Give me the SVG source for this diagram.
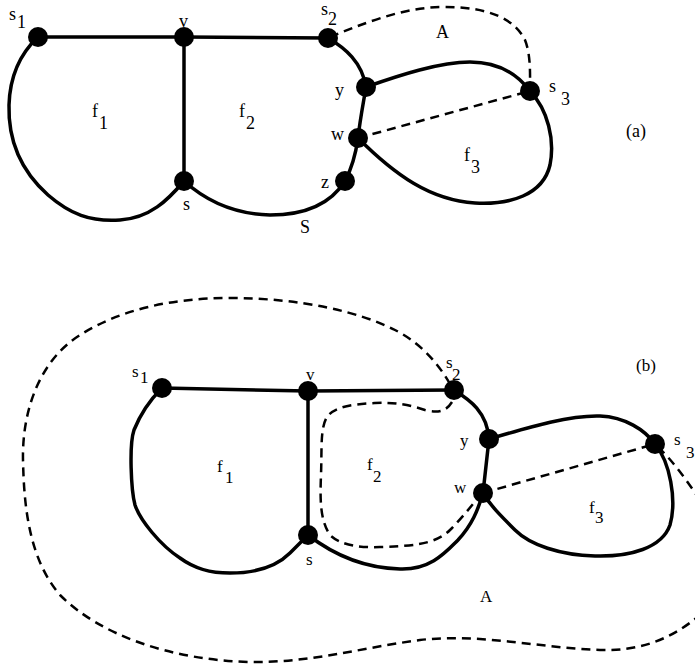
<svg xmlns="http://www.w3.org/2000/svg" width="695" height="665" viewBox="0 0 695 665">
<style>
.e{fill:none;stroke:#000;stroke-width:3.5;stroke-linecap:round;stroke-linejoin:round}
.d{fill:none;stroke:#000;stroke-width:2.5;stroke-dasharray:9 6}
.n{fill:#000}
text{font-family:"Liberation Serif","Times New Roman",serif;fill:#000}
.a{font-size:18px}
.b{font-size:17px}
</style>
<rect width="695" height="665" fill="#fff"/>
<g id="connectors">
<!-- (a) -->
<path class="e" d="M38,37 L184,37 L328,38"/>
<path class="e" d="M184,37 L184,181"/>
<path class="e" d="M38,37 C22,52 10,72 9,105 C8,140 20,170 48,195 C70,214 90,222 120,220 C150,218 168,200 184,181"/>
<path class="e" d="M184,181 C205,200 232,214 270,215 C305,215 330,205 345,181 C352,168 356,152 358,138 C360,120 363,105 366,87"/>
<path class="e" d="M328,38 C345,48 362,62 366,87"/>
<path class="e" d="M366,87 C400,75 440,62 470,62 C500,62 518,75 530,91"/>
<path class="e" d="M530,91 C548,110 555,140 550,165 C543,195 510,205 475,203 C430,200 395,175 358,138"/>
<path class="d" d="M330,37 C360,25 400,8 440,7 C490,6 515,20 525,40 C531,55 530,75 530,91"/>
<path class="d" d="M358,138 L530,91"/>
<!-- (b) -->
<path class="e" d="M162,388 L308,391 L454,390"/>
<path class="e" d="M308,391 L308,535"/>
<path class="e" d="M162,388 C150,400 140,415 134,430 C129,445 131,490 135,505 C140,520 160,545 180,558 C195,569 210,573 230,573 C255,573 275,568 290,553 L308,535"/>
<path class="e" d="M308,535 C330,552 360,568 400,569 C430,570 445,553 458,540 C472,525 478,510 483,493 L489,439"/>
<path class="e" d="M454,390 C470,400 487,412 489,439"/>
<path class="e" d="M489,439 C530,427 570,415 600,416 C625,417 645,430 655,444"/>
<path class="e" d="M655,444 C670,462 677,500 670,525 C662,548 630,557 595,556 C560,555 530,545 515,530 C500,515 490,505 483,493"/>
<path class="d" d="M483,493 L655,444"/>
<path class="d" d="M452,402 C447,410 440,414 425,410 C410,405 395,402 375,403 C355,404 335,406 327,417 C320,428 322,450 321,475 C320,500 320,520 330,535 C340,545 360,548 380,547 C410,546 435,545 450,530 C462,518 472,505 478,498"/>
<path class="d" d="M450,384 C442,370 425,345 395,330 C360,312 300,298 230,298 C170,298 120,310 80,335 C40,360 22,410 23,460 C24,510 30,560 60,595 C100,635 170,660 250,662 C310,663 360,648 420,640 C480,633 540,648 600,650 C640,651 670,640 700,615"/>
<path class="d" d="M658,447 C672,460 685,478 700,500"/>
</g>
<g id="node-a-s1"><circle class="n" cx="38" cy="37" r="10"/><text class="a" x="9" y="20">s</text><text class="a" x="17" y="28">1</text></g>
<g id="node-a-v"><circle class="n" cx="184" cy="37" r="10"/><text class="a" x="179" y="27">v</text></g>
<g id="node-a-s2"><circle class="n" cx="328" cy="38" r="10"/><text class="a" x="321" y="15">s</text><text class="a" x="328" y="25">2</text></g>
<g id="node-a-y"><circle class="n" cx="366" cy="87" r="10"/><text class="a" x="335" y="96">y</text></g>
<g id="node-a-w"><circle class="n" cx="358" cy="138" r="10"/><text class="a" x="331" y="140">w</text></g>
<g id="node-a-z"><circle class="n" cx="345" cy="181" r="10"/><text class="a" x="321" y="188">z</text></g>
<g id="node-a-s"><circle class="n" cx="184" cy="181" r="10"/><text class="a" x="183" y="210">s</text></g>
<g id="node-a-s3"><circle class="n" cx="530" cy="91" r="10"/><text class="a" x="549" y="92">s</text><text class="a" x="561" y="105">3</text></g>
<g id="labels-a">
<text class="a" x="92" y="117">f</text><text class="a" x="99" y="129">1</text>
<text class="a" x="239" y="117">f</text><text class="a" x="246" y="129">2</text>
<text class="a" x="464" y="161">f</text><text class="a" x="471" y="173">3</text>
<text class="a" x="436" y="38">A</text>
<text class="a" x="300" y="233">S</text>
<text class="a" x="626" y="137">(a)</text>
</g>
<g id="node-b-s1"><circle class="n" cx="162" cy="388" r="10"/><text class="b" x="132" y="377">s</text><text class="b" x="140" y="383">1</text></g>
<g id="node-b-v"><circle class="n" cx="308" cy="391" r="10"/><text class="b" x="306" y="380">v</text></g>
<g id="node-b-s2"><circle class="n" cx="454" cy="390" r="10"/><text class="b" x="446" y="368">s</text><text class="b" x="452" y="380">2</text></g>
<g id="node-b-y"><circle class="n" cx="489" cy="439" r="10"/><text class="b" x="460" y="446">y</text></g>
<g id="node-b-w"><circle class="n" cx="483" cy="493" r="10"/><text class="b" x="454" y="493">w</text></g>
<g id="node-b-s"><circle class="n" cx="308" cy="535" r="10"/><text class="b" x="306" y="565">s</text></g>
<g id="node-b-s3"><circle class="n" cx="655" cy="444" r="10"/><text class="b" x="674" y="445">s</text><text class="b" x="686" y="458">3</text></g>
<g id="labels-b">
<text class="b" x="217" y="472">f</text><text class="b" x="225" y="483">1</text>
<text class="b" x="367" y="470">f</text><text class="b" x="373" y="482">2</text>
<text class="b" x="589" y="513">f</text><text class="b" x="595" y="523">3</text>
<text class="b" x="480" y="602">A</text>
<text class="b" x="636" y="371">(b)</text>
</g>
</svg>
